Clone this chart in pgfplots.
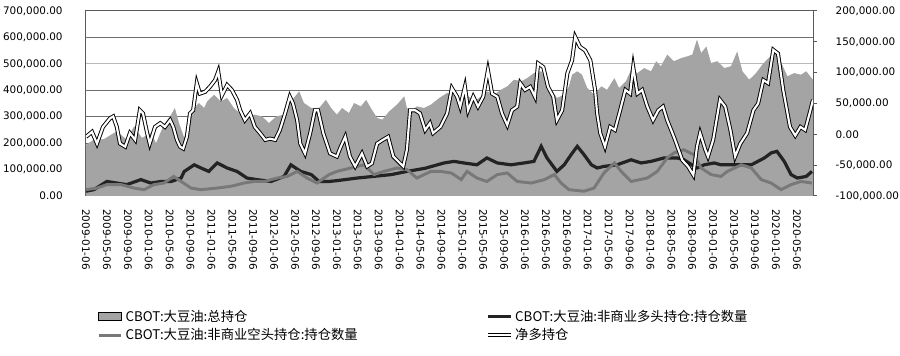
\documentclass[border=0pt]{standalone}
\usepackage{fontspec}
\setmainfont{DejaVu Sans}
\newfontfamily\cjk{Noto Sans CJK SC}
\usepackage{pgfplots}
\pgfplotsset{compat=1.18}
\definecolor{areagray}{RGB}{164,164,164}
\definecolor{longblack}{RGB}{35,35,35}
\definecolor{shortgray}{RGB}{120,120,120}
\definecolor{gridgray}{RGB}{110,110,110}
\definecolor{gridlight}{RGB}{185,185,185}
\definecolor{framegray}{RGB}{90,90,90}
\pgfplotsset{
  myaxis/.style={
    scale only axis, width=545.25pt, height=138.75pt,
    at={(0,0)}, anchor=south west,
    xmin=0, xmax=139.1,
    scaled y ticks=false,
    tick label style={font=\fontsize{7.8}{9}\selectfont},
    yticklabel={\pgfmathprintnumber[fixed,fixed zerofill,precision=2,1000 sep={,},assume math mode=true]{\tick}},
  }
}
\begin{document}
\begin{tikzpicture}
\begin{axis}[myaxis,
  ymin=0, ymax=700000,
  ytick={0,100000,200000,300000,400000,600000,700000},
  extra y ticks={500000},
  extra y tick style={grid style={gridlight, line width=0.75pt}},
  ymajorgrids, grid style={gridgray, line width=0.75pt},
  axis line style={framegray, line width=0.75pt},
  xtick={0,4,...,136},
  xticklabels={2009-01-06,2009-05-06,2009-09-06,2010-01-06,2010-05-06,2010-09-06,2011-01-06,2011-05-06,2011-09-06,2012-01-06,2012-05-06,2012-09-06,2013-01-06,2013-05-06,2013-09-06,2014-01-06,2014-05-06,2014-09-06,2015-01-06,2015-05-06,2015-09-06,2016-01-06,2016-05-06,2016-09-06,2017-01-06,2017-05-06,2017-09-06,2018-01-06,2018-05-06,2018-09-06,2019-01-06,2019-05-06,2019-09-06,2020-01-06,2020-05-06},
  xticklabel style={rotate=-90, anchor=west},
  xticklabel shift=6.5pt,
  yticklabel shift=14pt,
  major tick length=0pt,
  legend columns=2,
  legend cell align=left,
  legend style={at={(axis description cs:0.015,-0.60)}, anchor=north west, draw=none, fill=none,
    font=\cjk\fontsize{10}{12}\selectfont, inner sep=0pt,
    /tikz/every even column/.append style={column sep=94pt}},
]
\addplot[fill=areagray, draw=none, area legend] coordinates {
(0,194000)(1.5,213000)(3.4,215000)(5.9,245000)(7.8,213000)(9.2,264000)(10.7,220000)(12.4,238000)(13.4,200000)(14.9,270000)
(16.3,308000)(17.0,333000)(17.8,276000)(18.8,220000)(19.7,283000)(20.7,333000)(21.6,352000)(22.6,333000)(23.2,358000)(24.5,383000)
(25.8,358000)(27.0,371000)(28.3,333000)(29.7,308000)(30.8,295000)(32.2,308000)(33.7,301000)(35.0,276000)(36.4,301000)(37.9,308000)
(39.2,358000)(40.8,396000)(41.7,352000)(43.1,333000)(44.6,333000)(45.9,364000)(46.9,333000)(48.0,308000)(49.0,333000)(50.3,314000)
(51.3,352000)(52.6,339000)(53.6,364000)(54.5,333000)(55.7,295000)(56.7,289000)(58.0,320000)(59.5,346000)(60.9,377000)(61.4,333000)
(62.2,320000)(63.3,339000)(64.7,333000)(66.0,346000)(67.6,371000)(69.1,390000)(70.4,383000)(71.8,364000)(72.9,383000)(74.3,358000)
(75.6,377000)(76.7,396000)(78.1,383000)(79.4,402000)(80.6,415000)(81.9,440000)(83.3,434000)(84.4,446000)(85.7,465000)(87.1,472000)
(88.0,440000)(89.0,402000)(90.1,371000)(91.5,383000)(92.4,415000)(93.0,459000)(94.0,472000)(94.9,459000)(95.9,409000)(97.2,383000)
(98.6,415000)(99.7,402000)(101.1,446000)(102.0,409000)(103.3,434000)(104.3,478000)(105.5,465000)(106.8,484000)(108.1,472000)(109.1,510000)
(110.0,491000)(111.2,535000)(112.5,510000)(113.9,522000)(115.0,528000)(116.0,535000)(116.9,592000)(117.7,541000)(118.7,566000)(119.6,503000)
(120.8,510000)(122.1,484000)(123.4,491000)(124.6,547000)(125.6,472000)(126.9,440000)(128.2,465000)(129.4,497000)(130.3,516000)(131.3,535000)
(132.2,547000)(133.2,497000)(134.2,453000)(135.5,465000)(136.8,459000)(137.8,472000)(139.1,440000)
} \closedcycle;
\addlegendentry{CBOT:大豆油:总持仓}
\addplot[longblack, line width=2.4pt] coordinates {
(0,18000)(1.5,24000)(4.0,55000)(5.9,49000)(7.8,43000)(10.5,62000)(12.4,49000)(14.4,55000)(16.3,55000)(18.2,68000)
(18.8,93000)(20.7,118000)(22.0,106000)(23.5,93000)(25.1,125000)(27.0,106000)(28.9,93000)(30.8,68000)(32.7,62000)(35.4,55000)
(37.9,74000)(39.2,118000)(41.1,93000)(43.1,81000)(44.6,55000)(46.5,55000)(48.0,58000)(51.9,68000)(58.4,81000)(61.4,93000)
(64.9,105000)(68.5,125000)(70.4,131000)(72.3,125000)(74.8,118000)(76.7,144000)(78.7,125000)(81.3,118000)(83.8,125000)(85.7,131000)
(87.1,188000)(88.2,144000)(90.1,93000)(91.5,118000)(92.8,156000)(94.0,188000)(95.3,156000)(96.7,118000)(97.8,106000)(99.1,112000)
(101.6,118000)(104.3,137000)(106.2,125000)(108.1,131000)(110.6,144000)(113.1,144000)(114.4,137000)(116.9,106000)(118.3,118000)(120.2,125000)
(121.5,118000)(124.0,118000)(127.3,118000)(129.8,144000)(131.1,163000)(132.2,169000)(133.6,131000)(134.9,81000)(136.1,68000)(137.8,74000)
(138.9,93000)
};
\addlegendentry{CBOT:大豆油:非商业多头持仓:持仓数量}
\addplot[shortgray, line width=2.2pt] coordinates {
(0,24000)(2.1,30000)(4.0,43000)(6.7,43000)(9.2,30000)(11.1,24000)(13.0,43000)(14.9,49000)(16.8,74000)(18.2,55000)
(20.1,30000)(22.0,24000)(25.1,30000)(27.8,37000)(30.2,49000)(32.2,55000)(34.1,55000)(36.6,68000)(38.5,74000)(40.4,93000)
(42.3,68000)(44.2,49000)(46.5,81000)(48.0,93000)(50.7,106000)(53.2,118000)(55.1,81000)(57.0,93000)(59.5,106000)(61.4,100000)
(63.3,68000)(66.0,93000)(67.9,93000)(69.9,87000)(71.8,62000)(72.9,93000)(74.8,68000)(76.7,55000)(78.7,81000)(80.6,87000)
(82.5,55000)(85.2,49000)(87.7,62000)(89.6,81000)(90.9,49000)(92.4,24000)(95.3,18000)(97.2,30000)(99.1,87000)(101.1,125000)
(102.4,93000)(104.3,55000)(107.4,68000)(109.3,93000)(111.2,144000)(112.5,163000)(114.4,175000)(116.3,156000)(117.7,106000)(119.6,81000)
(121.5,74000)(122.7,93000)(125.4,118000)(127.3,106000)(129.2,62000)(131.1,49000)(133.0,24000)(134.9,43000)(136.8,55000)(138.9,49000)
};
\addlegendentry{CBOT:大豆油:非商业空头持仓:持仓数量}
\addlegendimage{black, line width=0.7pt, double=white, double distance=1.6pt}
\addlegendentry{净多持仓}
\end{axis}
\begin{axis}[myaxis,
  ymin=-100000, ymax=200000,
  ytick={-100000,-50000,0,50000,100000,150000,200000},
  axis y line*=right, axis x line=none,
  axis line style={framegray, line width=0.75pt},
  tick align=outside, major tick length=3pt,
  ytick style={framegray, line width=0.75pt},
  yticklabel shift=10.5pt,
]
\addplot[black, line width=0.7pt, double=white, double distance=1.6pt] coordinates {
(0,-4000)(1.15,4000)(2.1,-15000)(3.25,12000)(4.6,26000)(5.2,29000)(5.9,12000)(6.5,-15000)(7.5,-20000)(8.4,2000)
(9.4,-9000)(10.3,39000)(10.9,34000)(11.7,2000)(12.2,-15000)(13.2,12000)(14.2,18000)(15.1,12000)(16.1,23000)(16.7,12000)
(17.4,-9000)(18.0,-20000)(18.6,-23000)(19.3,-4000)(19.9,34000)(20.5,39000)(21.2,83000)(21.8,66000)(22.8,69000)(23.7,77000)
(24.7,88000)(25.3,102000)(26.0,63000)(27.0,80000)(27.9,72000)(28.9,56000)(29.5,39000)(30.4,23000)(31.4,34000)(32.3,12000)
(33.3,2000)(34.3,-9000)(35.2,-7000)(36.2,-9000)(37.1,7000)(38.1,34000)(39.0,61000)(39.6,50000)(40.4,23000)(41.0,-15000)
(41.9,-31000)(42.9,2000)(43.8,39000)(44.4,39000)(45.4,2000)(46.7,-31000)(48.0,-36000)(48.6,-23000)(49.6,-4000)(50.5,-36000)
(51.5,-52000)(52.8,-31000)(53.8,-52000)(54.7,-47000)(55.7,-15000)(56.8,-9000)(57.8,-4000)(58.8,-36000)(60.1,-47000)(60.7,-52000)
(61.4,-25000)(62.0,39000)(63.0,39000)(63.9,34000)(64.9,7000)(65.8,18000)(66.4,2000)(67.8,12000)(69.1,34000)(70.0,75000)
(71.0,61000)(71.6,45000)(72.5,77000)(73.1,39000)(74.1,61000)(75.0,45000)(76.0,61000)(76.9,104000)(77.7,66000)(78.7,61000)
(79.6,34000)(80.6,15000)(81.5,39000)(82.5,45000)(83.1,83000)(84.0,72000)(85.0,77000)(85.9,61000)(86.5,115000)(87.5,109000)
(88.4,77000)(89.4,61000)(90.1,23000)(91.1,39000)(92.1,99000)(93.0,120000)(93.6,158000)(94.5,142000)(95.5,136000)(96.5,120000)
(97.4,72000)(97.8,34000)(98.4,2000)(99.3,-20000)(100.3,12000)(101.2,7000)(102.2,39000)(103.2,72000)(104.1,66000)(104.7,109000)
(105.5,66000)(106.4,72000)(107.4,45000)(108.5,23000)(109.5,39000)(110.4,45000)(111.2,23000)(112.2,2000)(112.7,-9000)(114.1,-42000)
(115.2,-52000)(116.2,-66000)(116.9,-20000)(117.5,2000)(118.5,-25000)(119.0,-36000)(120.0,-9000)(121.3,56000)(122.3,45000)(123.3,7000)
(124.2,-36000)(125.2,-15000)(126.5,2000)(127.7,39000)(128.6,50000)(129.6,88000)(130.5,83000)(131.5,137000)(132.4,131000)(133.4,72000)
(134.7,12000)(135.7,-2000)(136.7,12000)(137.6,7000)(138.6,39000)(139.1,56000)
};
\end{axis}
\pgfresetboundingbox
\path[use as bounding box] (-64.5pt,-120pt) rectangle (610.5pt,147pt);
\end{tikzpicture}
\end{document}
